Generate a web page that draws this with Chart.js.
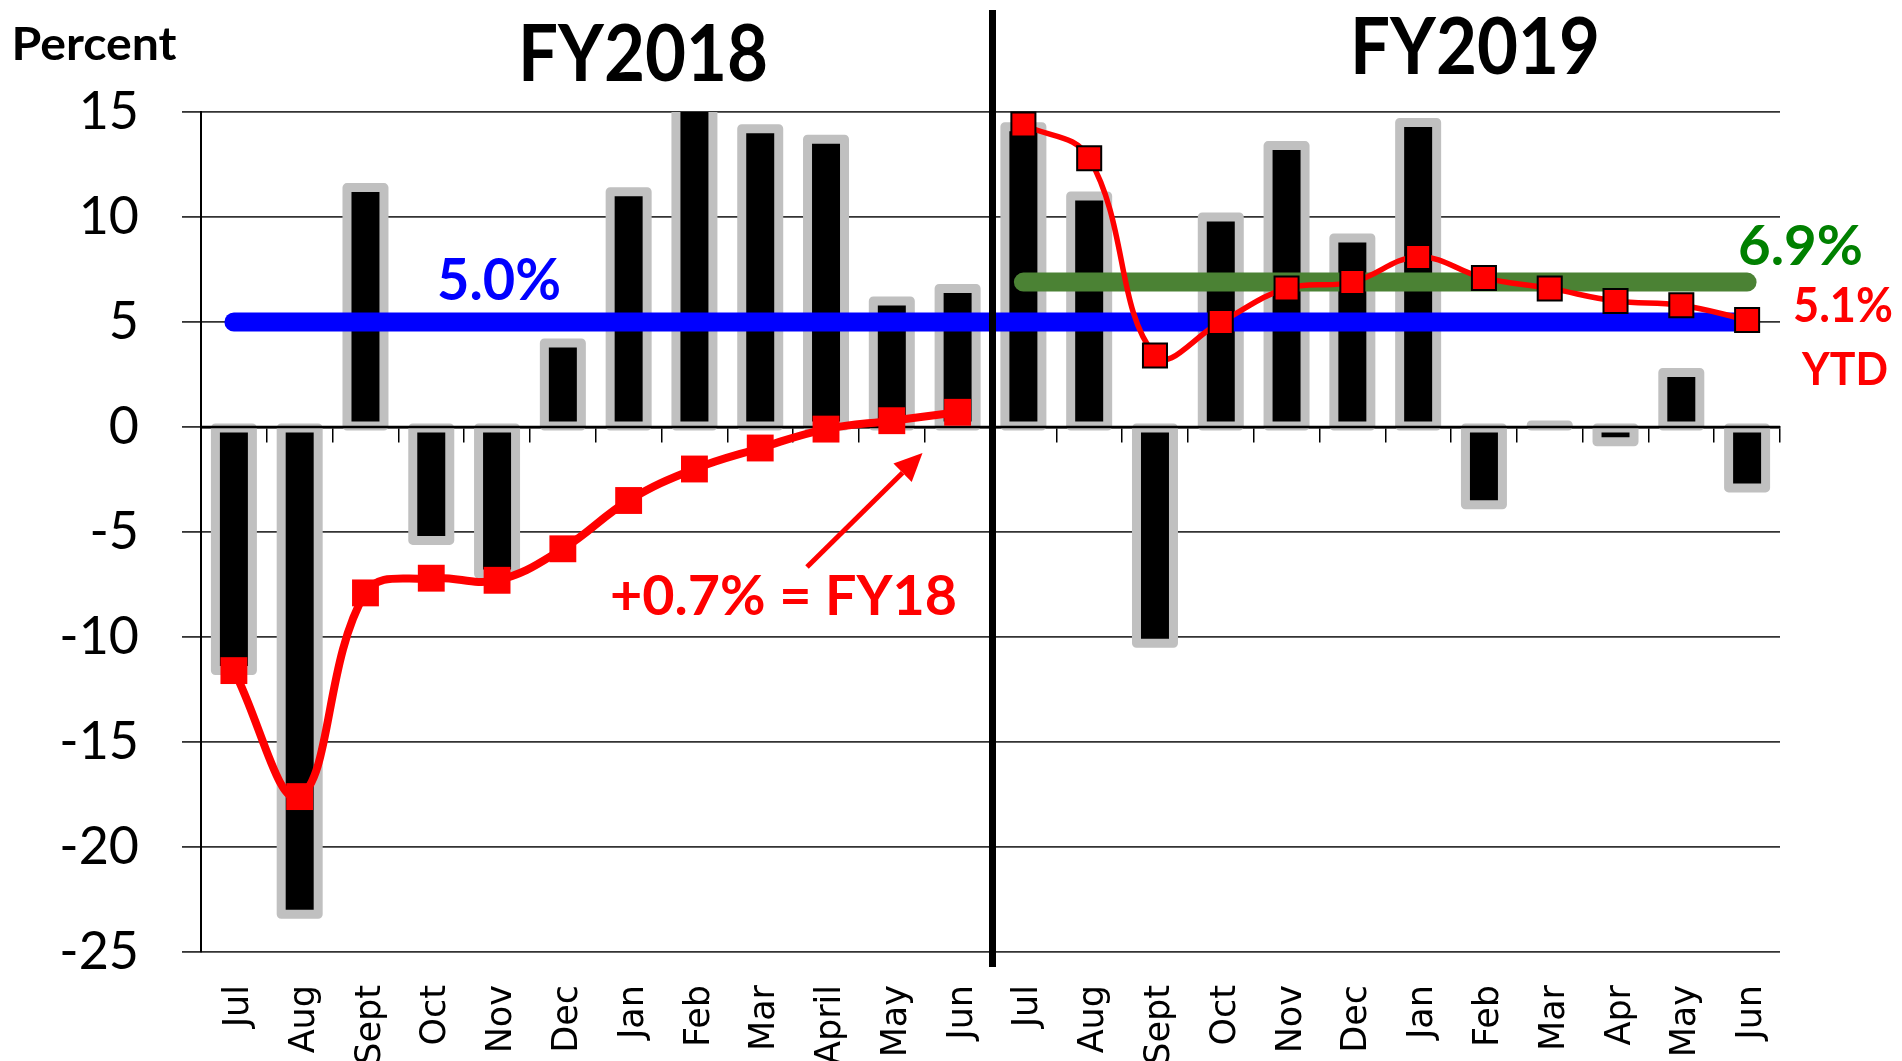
<!DOCTYPE html>
<html><head><meta charset="utf-8">
<script src="https://cdn.jsdelivr.net/npm/chart.js@4/dist/chart.umd.min.js"></script>
<style>html,body{margin:0;padding:0;background:#fff;overflow:hidden}#wrap{width:1902px;height:1061px;position:relative}</style>
</head><body><div id="wrap"><canvas id="c" width="1902" height="1061"></canvas></div>
<script>
const months = ['Jul','Aug','Sept','Oct','Nov','Dec','Jan','Feb','Mar','April','May','Jun',
                'Jul','Aug','Sept','Oct','Nov','Dec','Jan','Feb','Mar','Apr','May','Jun'];
const monthlyChange = [-11.6,-23.2,11.4,-5.4,-7.0,4.0,11.2,15.5,14.2,13.7,6.0,6.6,
                       14.3,11.0,-10.3,10.0,13.4,9.0,14.5,-3.7,0.1,-0.7,2.6,-2.9];
const ytdFY18 = [-11.6,-17.6,-7.9,-7.2,-7.3,-5.8,-3.5,-2.0,-1.0,-0.1,0.3,0.7,
                 null,null,null,null,null,null,null,null,null,null,null,null];
const ytdFY19 = [null,null,null,null,null,null,null,null,null,null,null,null,
                 14.4,12.8,3.4,5.0,6.6,6.9,8.1,7.1,6.6,6.0,5.8,5.1];
const longRunAvg = [5.0,null,null,null,null,null,null,null,null,null,null,null,
                    null,null,null,null,null,null,null,null,null,null,null,5.0];
const fy19Avg = [null,null,null,null,null,null,null,null,null,null,null,null,
                 6.9,null,null,null,null,null,null,null,null,null,null,6.9];
const yTickValues = [-25,-20,-15,-10,-5,0,5,10,15];
const yearTitles = ['FY2018','FY2019'];

const barStroke = {
  id: 'barStroke',
  afterDatasetDraw(chart, args) {
    if (args.index !== 0) return;
    const ctx = chart.ctx, a = chart.chartArea;
    ctx.save();
    ctx.beginPath(); ctx.rect(a.left, a.top, a.right - a.left, a.bottom - a.top); ctx.clip();
    ctx.strokeStyle = '#c0c0c0'; ctx.lineWidth = 9; ctx.lineJoin = 'round';
    args.meta.data.forEach(el => {
      const p = el.getProps(['x','y','base','width'], true);
      const top = Math.min(p.y, p.base), h = Math.abs(p.base - p.y);
      ctx.strokeRect(p.x - p.width / 2, top, p.width, h);
    });
    ctx.restore();
    const y0 = chart.scales.y.getPixelForValue(0);
    ctx.save();
    ctx.strokeStyle = '#000'; ctx.lineWidth = 2.5;
    ctx.beginPath(); ctx.moveTo(a.left, y0); ctx.lineTo(a.right, y0); ctx.stroke();
    ctx.restore();
  }
};

function fitText(ctx, text, left, baseline, size, width, color) {
  ctx.save();
  ctx.font = 'bold ' + size + 'px Lato';
  ctx.fillStyle = color;
  ctx.textAlign = 'left'; ctx.textBaseline = 'alphabetic';
  const w = ctx.measureText(text).width;
  const sx = width / w;
  ctx.translate(left, baseline);
  ctx.scale(sx, 1);
  ctx.fillText(text, 0, 0);
  ctx.restore();
}

const annot = {
  id: 'annot',
  afterDraw(chart) {
    const ctx = chart.ctx, xs = chart.scales.x;
    ctx.save();
    const xd = xs.getPixelForValue(11.5) + 2;
    ctx.strokeStyle = '#000'; ctx.lineWidth = 7;
    ctx.beginPath(); ctx.moveTo(xd, 10); ctx.lineTo(xd, 967); ctx.stroke();
    ctx.restore();

    fitText(ctx, 'Percent', 11.5, 60, 45, 165, '#000');
    fitText(ctx, yearTitles[0], 518, 81, 78, 250, '#000');
    fitText(ctx, yearTitles[1], 1350, 74, 79, 250, '#000');
    fitText(ctx, '5.0%', 437, 300, 57, 124, '#0000ff');
    fitText(ctx, '6.9%', 1738, 265, 56, 125, '#008000');
    fitText(ctx, '+0.7% = FY18', 610, 615, 56, 347, '#ff0000');
    fitText(ctx, '5.1%', 1793, 322, 48, 100, '#ff0000');
    fitText(ctx, 'YTD', 1802, 385, 45, 86, '#ff0000');

    // arrow
    ctx.save();
    const x1 = 807, y1 = 567, x2 = 922.5, y2 = 453;
    const ang = Math.atan2(y2 - y1, x2 - x1);
    const L = 28, W = 13;
    const bx = x2 - L * Math.cos(ang), by = y2 - L * Math.sin(ang);
    ctx.strokeStyle = '#ff0000'; ctx.fillStyle = '#ff0000'; ctx.lineWidth = 5;
    ctx.beginPath(); ctx.moveTo(x1, y1); ctx.lineTo(bx, by); ctx.stroke();
    ctx.beginPath();
    ctx.moveTo(x2, y2);
    ctx.lineTo(bx + W * Math.sin(ang), by - W * Math.cos(ang));
    ctx.lineTo(bx - W * Math.sin(ang), by + W * Math.cos(ang));
    ctx.closePath(); ctx.fill();
    ctx.restore();
  }
};

Chart.defaults.font.family = 'Lato';
new Chart(document.getElementById('c'), {
  type: 'bar',
  data: {
    labels: months,
    datasets: [
      { type: 'bar', data: monthlyChange, backgroundColor: '#000', borderWidth: 0,
        barPercentage: 0.5623, categoryPercentage: 1, order: 5, xAxisID: 'x', yAxisID: 'y' },
      { type: 'line', data: longRunAvg, borderColor: '#0000ff', borderWidth: 19,
        borderCapStyle: 'round', pointRadius: 0, spanGaps: true, order: 4, clip: false },
      { type: 'line', data: fy19Avg, borderColor: '#4b8234', borderWidth: 19,
        borderCapStyle: 'round', pointRadius: 0, spanGaps: true, order: 3, clip: false },
      { type: 'line', data: ytdFY18, borderColor: '#ff0000', borderWidth: 8, tension: 0.4,
        pointStyle: 'rect', pointRadius: 19, pointBackgroundColor: '#ff0000', pointBorderWidth: 0,
        order: 2, clip: false },
      { type: 'line', data: ytdFY19, borderColor: '#ff0000', borderWidth: 5.5, tension: 0.4,
        pointStyle: 'rect', pointRadius: 17, pointBackgroundColor: '#ff0000',
        pointBorderColor: '#000', pointBorderWidth: 2, order: 1, clip: false }
    ]
  },
  options: {
    responsive: false, animation: false, devicePixelRatio: 1,
    layout: { padding: { top: 112, right: 122, bottom: 0, left: 0 } },
    plugins: { legend: { display: false }, tooltip: { enabled: false } },
    scales: {
      x: {
        position: 'bottom', offset: true,
        grid: { display: false, drawTicks: false, offset: true },
        border: { display: false },
        ticks: { autoSkip: false, minRotation: 90, maxRotation: 90, padding: 33, labelOffset: 5,
                 color: '#000', font: { family: 'DejaVu Sans', size: 35 } },
        afterFit(s) { s.height = 109; }
      },
      x2: {
        axis: 'x', type: 'category', position: { y: 0 }, offset: true,
        grid: { drawOnChartArea: false, drawTicks: true, tickLength: 14, color: '#000', lineWidth: 1.5, offset: true },
        border: { display: true, color: '#000', width: 2.5 },
        ticks: { display: false }
      },
      y: {
        min: -25, max: 15,
        afterBuildTicks(s) { s.ticks = yTickValues.map(v => ({ value: v })); },
        grid: { color: '#333', lineWidth: 1.8, drawTicks: true, tickLength: 19 },
        border: { display: true, color: '#000', width: 2 },
        ticks: { padding: 43, color: '#000', font: { family: 'Lato', size: 52 } },
        afterFit(s) { s.width = 201; }
      }
    }
  },
  plugins: [barStroke, annot]
});
</script></body></html>
